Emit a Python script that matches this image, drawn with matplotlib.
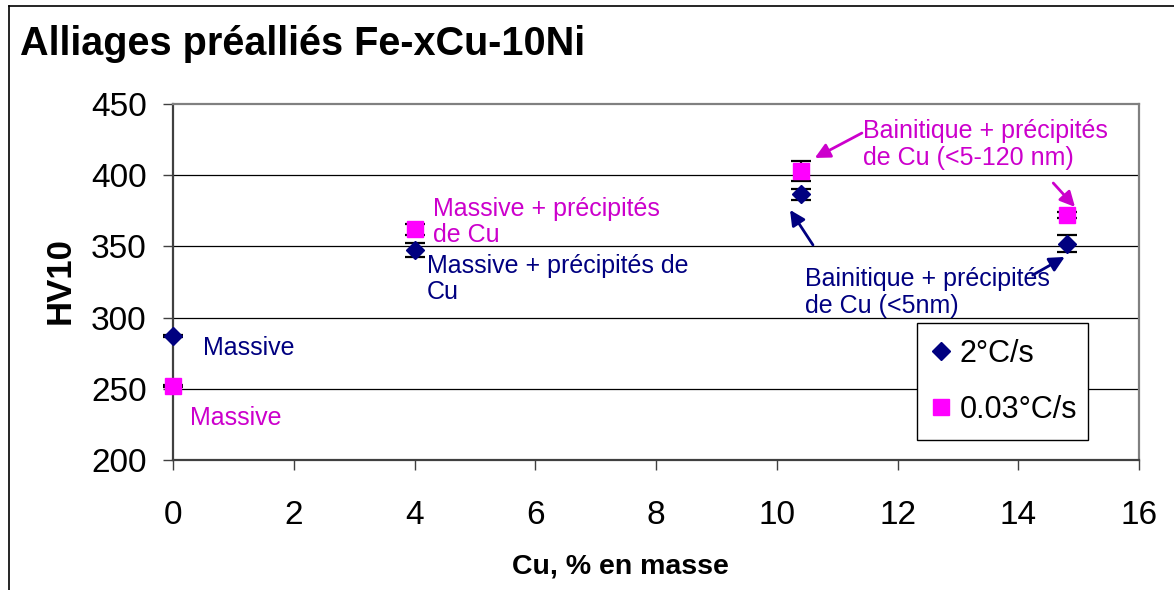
import matplotlib
matplotlib.use("Agg")
import matplotlib.pyplot as plt
from matplotlib import font_manager
from matplotlib.lines import Line2D
import numpy as np

# ---- data ----
cu = [0, 4, 10.4, 14.8]
hv_fast = [287, 347.5, 386.5, 352]      # 2°C/s
err_fast = [0.6, 5, 4, 6]
hv_slow = [252, 362, 403, 372]          # 0.03°C/s
err_slow = [0.8, 4, 7, 2]
series_labels = ["2°C/s", "0.03°C/s"]
xticks = [0, 2, 4, 6, 8, 10, 12, 14, 16]
yticks = [200, 250, 300, 350, 400, 450]
title = "Alliages préalliés Fe-xCu-10Ni"
xlabel = "Cu, % en masse"
ylabel = "HV10"

NAVY = "#000080"
MAG = "#FF00FF"
MAGTXT = "#CC00CC"

def has_font(name):
    try:
        font_manager.findfont(font_manager.FontProperties(family=name), fallback_to_default=False)
        return True
    except Exception:
        return False

NARROW = "Liberation Sans Narrow" if has_font("Liberation Sans Narrow") else None
REG = "Liberation Sans"
# sizes depend on whether a condensed face exists
if NARROW:
    TICK_FS, TITLE_FS, XL_FS = 26, 32, 23
else:
    NARROW = REG
    TICK_FS, TITLE_FS, XL_FS = 24, 28.5, 20.5

W, H = 1174, 590
fig = plt.figure(figsize=(W / 100, H / 100), dpi=100)
fig.patch.set_facecolor("white")

def fx(px):
    return px / W

def fy(py):
    return 1 - py / H

ax = fig.add_axes([fx(173), fy(460), fx(1139) - fx(173), fy(104) - fy(460)])
ax.set_xlim(0, 16)
ax.set_ylim(200, 450)
ax.set_xticks(xticks)
ax.set_yticks(yticks)
ax.set_xticklabels([str(t) for t in xticks], fontfamily=NARROW, fontsize=TICK_FS)
ax.set_yticklabels([str(t) for t in yticks], fontfamily=NARROW, fontsize=TICK_FS)
ax.tick_params(axis="y", direction="out", length=7, width=1, color="#404040", pad=12)
ax.tick_params(axis="x", direction="out", length=7, width=1, color="#404040", pad=22)

for yv in yticks[1:-1]:
    ax.axhline(yv, color="black", lw=0.9, zorder=1)

for side in ["top", "right"]:
    ax.spines[side].set_color("#808080")
    ax.spines[side].set_linewidth(1.6)
for side in ["left", "bottom"]:
    ax.spines[side].set_color("#404040")
    ax.spines[side].set_linewidth(1.6)

# error bars
ax.errorbar(cu, hv_fast, yerr=err_fast, fmt="none", ecolor="black", elinewidth=1.6,
            capsize=7, capthick=1.6, zorder=3, clip_on=False)
ax.errorbar(cu, hv_slow, yerr=err_slow, fmt="none", ecolor="black", elinewidth=1.6,
            capsize=7, capthick=1.6, zorder=3, clip_on=False)
# markers
ax.plot(cu, hv_fast, linestyle="none", marker="D", ms=9.5, color=NAVY, mec=NAVY,
        zorder=4, clip_on=False, label=series_labels[0])
ax.plot(cu, hv_slow, linestyle="none", marker="s", ms=11, color=MAG, mec=MAG,
        zorder=4, clip_on=False, label=series_labels[1])

# annotations
tk = dict(fontfamily=REG, fontsize=18, linespacing=1.15, zorder=5)
ax.text(0.50, 278.7, "Massive", color=NAVY, va="center", ha="left", **tk)
ax.text(0.28, 229.5, "Massive", color=MAGTXT, va="center", ha="left", **tk)
ax.text(4.31, 385, "Massive + précipités\nde Cu", color=MAGTXT, va="top", ha="left", **tk)
ax.text(4.21, 345, "Massive + précipités de\nCu", color=NAVY, va="top", ha="left", **tk)
ax.text(11.43, 439.5, "Bainitique + précipités\nde Cu (<5-120 nm)", color=MAGTXT,
        va="top", ha="left", **tk)
ax.text(10.47, 335.5, "Bainitique + précipités\nde Cu (<5nm)", color=NAVY,
        va="top", ha="left", **tk)

ap_m = dict(arrowstyle="-|>,head_length=0.9,head_width=0.45", color=MAGTXT, lw=2,
            shrinkA=0, shrinkB=0)
ap_n = dict(arrowstyle="-|>,head_length=0.9,head_width=0.45", color=NAVY, lw=2,
            shrinkA=0, shrinkB=0)
ax.annotate("", xy=(10.63, 412.1), xytext=(11.41, 429.6), arrowprops=ap_m, zorder=5)
ax.annotate("", xy=(14.94, 377.7), xytext=(14.58, 394.5), arrowprops=ap_m, zorder=5)
ax.annotate("", xy=(10.22, 375.6), xytext=(10.60, 351.0), arrowprops=ap_n, zorder=5)
ax.annotate("", xy=(14.77, 342.6), xytext=(14.24, 329.9), arrowprops=ap_n, zorder=5)

leg = ax.legend(loc="upper left", bbox_to_anchor=(0.770, 0.384, 0.1775, 0.0),
                mode="expand", frameon=True, fancybox=False, edgecolor="black",
                framealpha=1, prop=dict(family=REG, size=22), handlelength=0.6,
                handletextpad=0.3, borderpad=0.5, labelspacing=0.85,
                borderaxespad=0)
leg.get_frame().set_linewidth(1.0)
leg.set_zorder(6)

# titles
fig.text(fx(20), fy(55), title, fontfamily=NARROW, fontweight="bold", fontsize=TITLE_FS,
         ha="left", va="baseline")
fig.text(fx(620), fy(573), xlabel, fontfamily=NARROW, fontweight="bold", fontsize=XL_FS,
         ha="center", va="baseline")
fig.text(fx(60), fy(281), ylabel, fontfamily=REG, fontweight="bold", fontsize=25,
         ha="center", va="center", rotation=90)

# chart outer border
fig.add_artist(Line2D([fx(9), fx(9)], [0, fy(6)], color="black", lw=1.2))
fig.add_artist(Line2D([fx(9), 1], [fy(6), fy(6)], color="black", lw=1.2))

fig.savefig("out.png", dpi=100, facecolor="white")
